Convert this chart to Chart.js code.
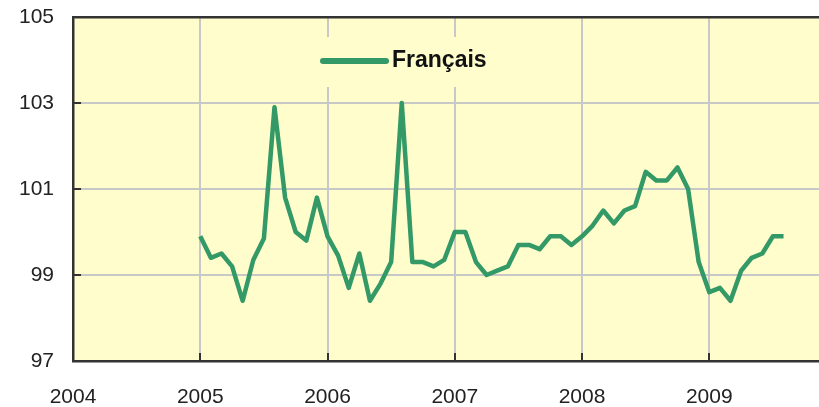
<!DOCTYPE html>
<html>
<head>
<meta charset="utf-8">
<script src="https://cdn.jsdelivr.net/npm/chart.js@4"></script>
<style>
  html, body { margin: 0; padding: 0; background: #fff; }
  canvas { display: block; }
</style>
</head>
<body>
<canvas id="indexChart" width="819" height="407"></canvas>
<script>
// monthly index, Jan 2005 .. Aug 2009
const seriesLabel = 'Français';
const startYear = 2005;
const values = [
    99.9, 99.4, 99.5, 99.2, 98.4, 99.35, 99.85, 102.9, 100.8, 100.0, 99.8, 100.8,
    99.9, 99.45, 98.7, 99.5, 98.4, 98.8, 99.3, 103.0, 99.3, 99.3, 99.2, 99.35,
    100.0, 100.0, 99.3, 99.0, 99.1, 99.2, 99.7, 99.7, 99.6, 99.9, 99.9, 99.7,
    99.9, 100.15, 100.5, 100.2, 100.5, 100.6, 101.4, 101.2, 101.2, 101.5, 101.0, 99.3,
    98.6, 98.7, 98.4, 99.1, 99.4, 99.5, 99.9, 99.9
];
const yearTicks = [2004, 2005, 2006, 2007, 2008, 2009];
const valueTicks = [97, 99, 101, 103, 105];

const plotBg = '#fffdcc';
const lineColor = '#339966';
const axisDark = '#333333';
const gridGrey = '#c8c8c8';

const points = values.map((v, i) => ({ x: startYear + i / 12, y: v }));

// background, inner tick marks and the floating legend
const decor = {
    id: 'decor',
    beforeDraw(chart) {
        const a = chart.chartArea, ctx = chart.ctx;
        ctx.save();
        ctx.fillStyle = plotBg;
        ctx.fillRect(a.left, a.top, a.right - a.left, a.bottom - a.top);
        ctx.restore();
    },
    afterDraw(chart) {
        const a = chart.chartArea, ctx = chart.ctx;
        const xs = chart.scales.x, ys = chart.scales.y;
        ctx.save();
        ctx.strokeStyle = axisDark;
        ctx.lineWidth = 2;
        ctx.beginPath();
        valueTicks.forEach(v => {
            const y = Math.round(ys.getPixelForValue(v));
            ctx.moveTo(a.left, y);
            ctx.lineTo(a.left + 8, y);
        });
        yearTicks.forEach(v => {
            const x = Math.round(xs.getPixelForValue(v));
            ctx.moveTo(x, a.bottom);
            ctx.lineTo(x, a.bottom - 8);
        });
        ctx.stroke();

        // legend
        ctx.fillStyle = plotBg;
        ctx.fillRect(305, 37, 200, 50);
        ctx.strokeStyle = lineColor;
        ctx.lineWidth = 6;
        ctx.lineCap = 'round';
        ctx.beginPath();
        ctx.moveTo(323, 61);
        ctx.lineTo(386, 61);
        ctx.stroke();
        ctx.fillStyle = '#111';
        ctx.font = 'bold 23px "Liberation Sans", Arial, sans-serif';
        ctx.textBaseline = 'middle';
        ctx.fillText(seriesLabel, 392, 61);
        ctx.restore();
    }
};

const tickFont = { family: '"Liberation Sans", Arial, sans-serif', size: 21 };

new Chart(document.getElementById('indexChart'), {
    type: 'line',
    data: {
        datasets: [{
            label: seriesLabel,
            data: points,
            borderColor: lineColor,
            borderWidth: 4.5,
            pointRadius: 0,
            tension: 0,
            borderJoinStyle: 'round'
        }]
    },
    options: {
        responsive: false,
        animation: false,
        layout: { padding: { top: 17, right: 0, left: 0, bottom: 0 } },
        plugins: {
            legend: { display: false },
            tooltip: { enabled: false }
        },
        scales: {
            x: {
                type: 'linear',
                min: 2004,
                max: 2009.862,
                afterBuildTicks: axis => { axis.ticks = yearTicks.map(v => ({ value: v })); },
                afterFit: s => {
                    s.height = 46;
                    s.paddingLeft = 0;
                    s.paddingRight = 0;
                },
                ticks: {
                    font: tickFont,
                    color: '#222',
                    padding: 24,
                    maxRotation: 0,
                    callback: v => String(v)
                },
                grid: {
                    drawTicks: false,
                    color: gridGrey,
                    lineWidth: 2
                },
                border: { color: axisDark, width: 2.5 }
            },
            y: {
                min: 97,
                max: 105,
                afterBuildTicks: axis => { axis.ticks = valueTicks.map(v => ({ value: v })); },
                afterFit: s => {
                    s.width = 73;
                    s.paddingTop = 0;
                    s.paddingBottom = 0;
                },
                ticks: {
                    font: tickFont,
                    color: '#222',
                    padding: 19
                },
                grid: {
                    drawTicks: false,
                    color: ctx => (ctx.tick && ctx.tick.value === 105) ? axisDark : gridGrey,
                    lineWidth: ctx => (ctx.tick && ctx.tick.value === 105) ? 2.5 : 2
                },
                border: { color: axisDark, width: 2.5 }
            }
        }
    },
    plugins: [decor]
});
</script>
</body>
</html>
